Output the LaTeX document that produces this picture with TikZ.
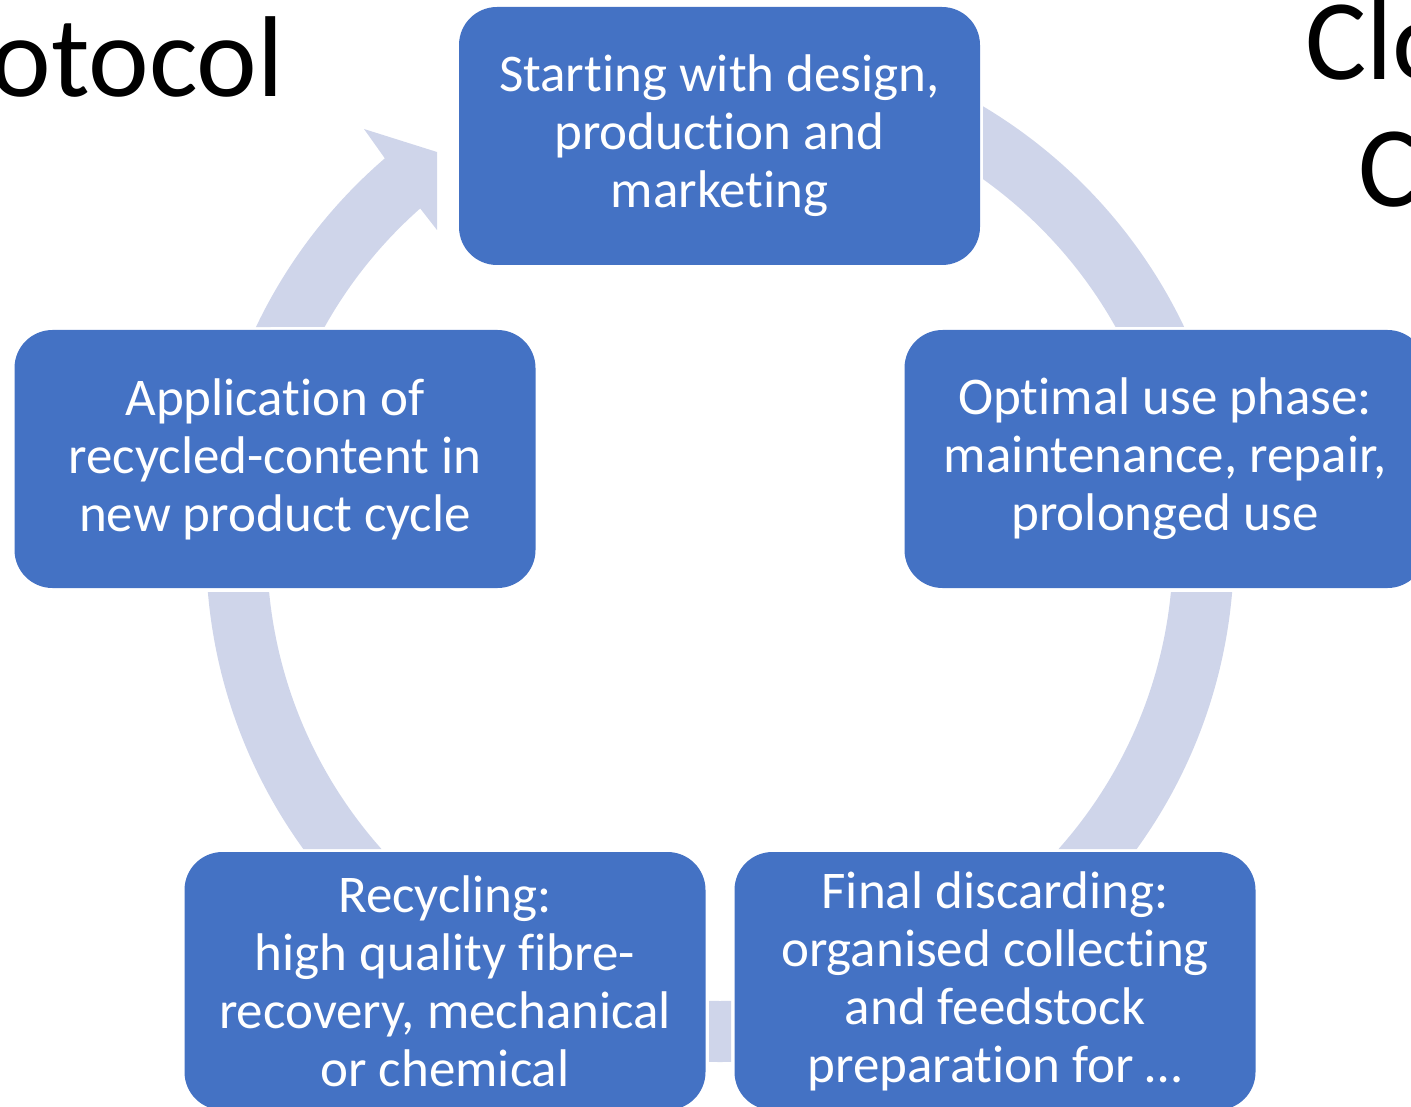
\documentclass[tikz,border=0pt]{standalone}
\usepackage{fontspec}
\setmainfont{Carlito}[Ligatures=NoCommon]
\usetikzlibrary{calc}
\definecolor{boxblue}{HTML}{4472C4}
\definecolor{arclav}{HTML}{CFD5EA}

\begin{document}
\begin{tikzpicture}[x=1pt,y=-1pt,
    stage/.style={fill=boxblue,text=white,rounded corners=38pt,minimum width=521pt,
      minimum height=258pt,inner sep=0pt,align=center,
      font=\fontsize{53}{58}\selectfont},
    bigtitle/.style={inner sep=0pt,font=\fontsize{115}{127}\selectfont}]
    \useasboundingbox (0,0) rectangle (1411,1107);
    \clip (0,0) rectangle (1411,1107);
    \coordinate (c) at (720,548);
    % ring pieces between the boxes
    \begin{scope}
      \clip (983,0) rectangle (1411,327) (720,592) rectangle (1411,849)
            (709,900) rectangle (731,1107) (0,592) rectangle (720,849);
      \fill[arclav,even odd rule] (c) circle[radius=514] (c) circle[radius=453];
    \end{scope}
    \fill[arclav] ($(c)+(205.46:514)$) arc[start angle=205.46,end angle=229.3,radius=514]
      -- (364,129) -- (437,152) -- (437,230)
      -- ($(c)+(228.56:453)$) arc[start angle=228.56,end angle=209.23,radius=453] -- cycle;
    % stages
    \node[stage] (design) at (719.5,136) {Starting with design,\\production and\\marketing};
    \node[stage] (usephase) at (1165,459) {Optimal use phase:\\maintenance, repair,\\prolonged use};
    \node[stage] (discard) at (995,981) {Final discarding:\\organised collecting\\and feedstock\\preparation for …};
    \node[stage] (recycle) at (445,981) {Recycling:\\high quality fibre-\\recovery, mechanical\\or chemical};
    \node[stage] (apply) at (275,459) {Application of\\recycled-content in\\new product cycle};
    % cut-off titles
    \node[bigtitle,anchor=base east] (lefttitle) at (284,97) {otocol};
    \node[bigtitle,anchor=base west] (righttitle) at (1305,80) {Clo};
    \node[bigtitle,anchor=base west] (righttitleb) at (1358,207) {C};
\end{tikzpicture}
\end{document}
